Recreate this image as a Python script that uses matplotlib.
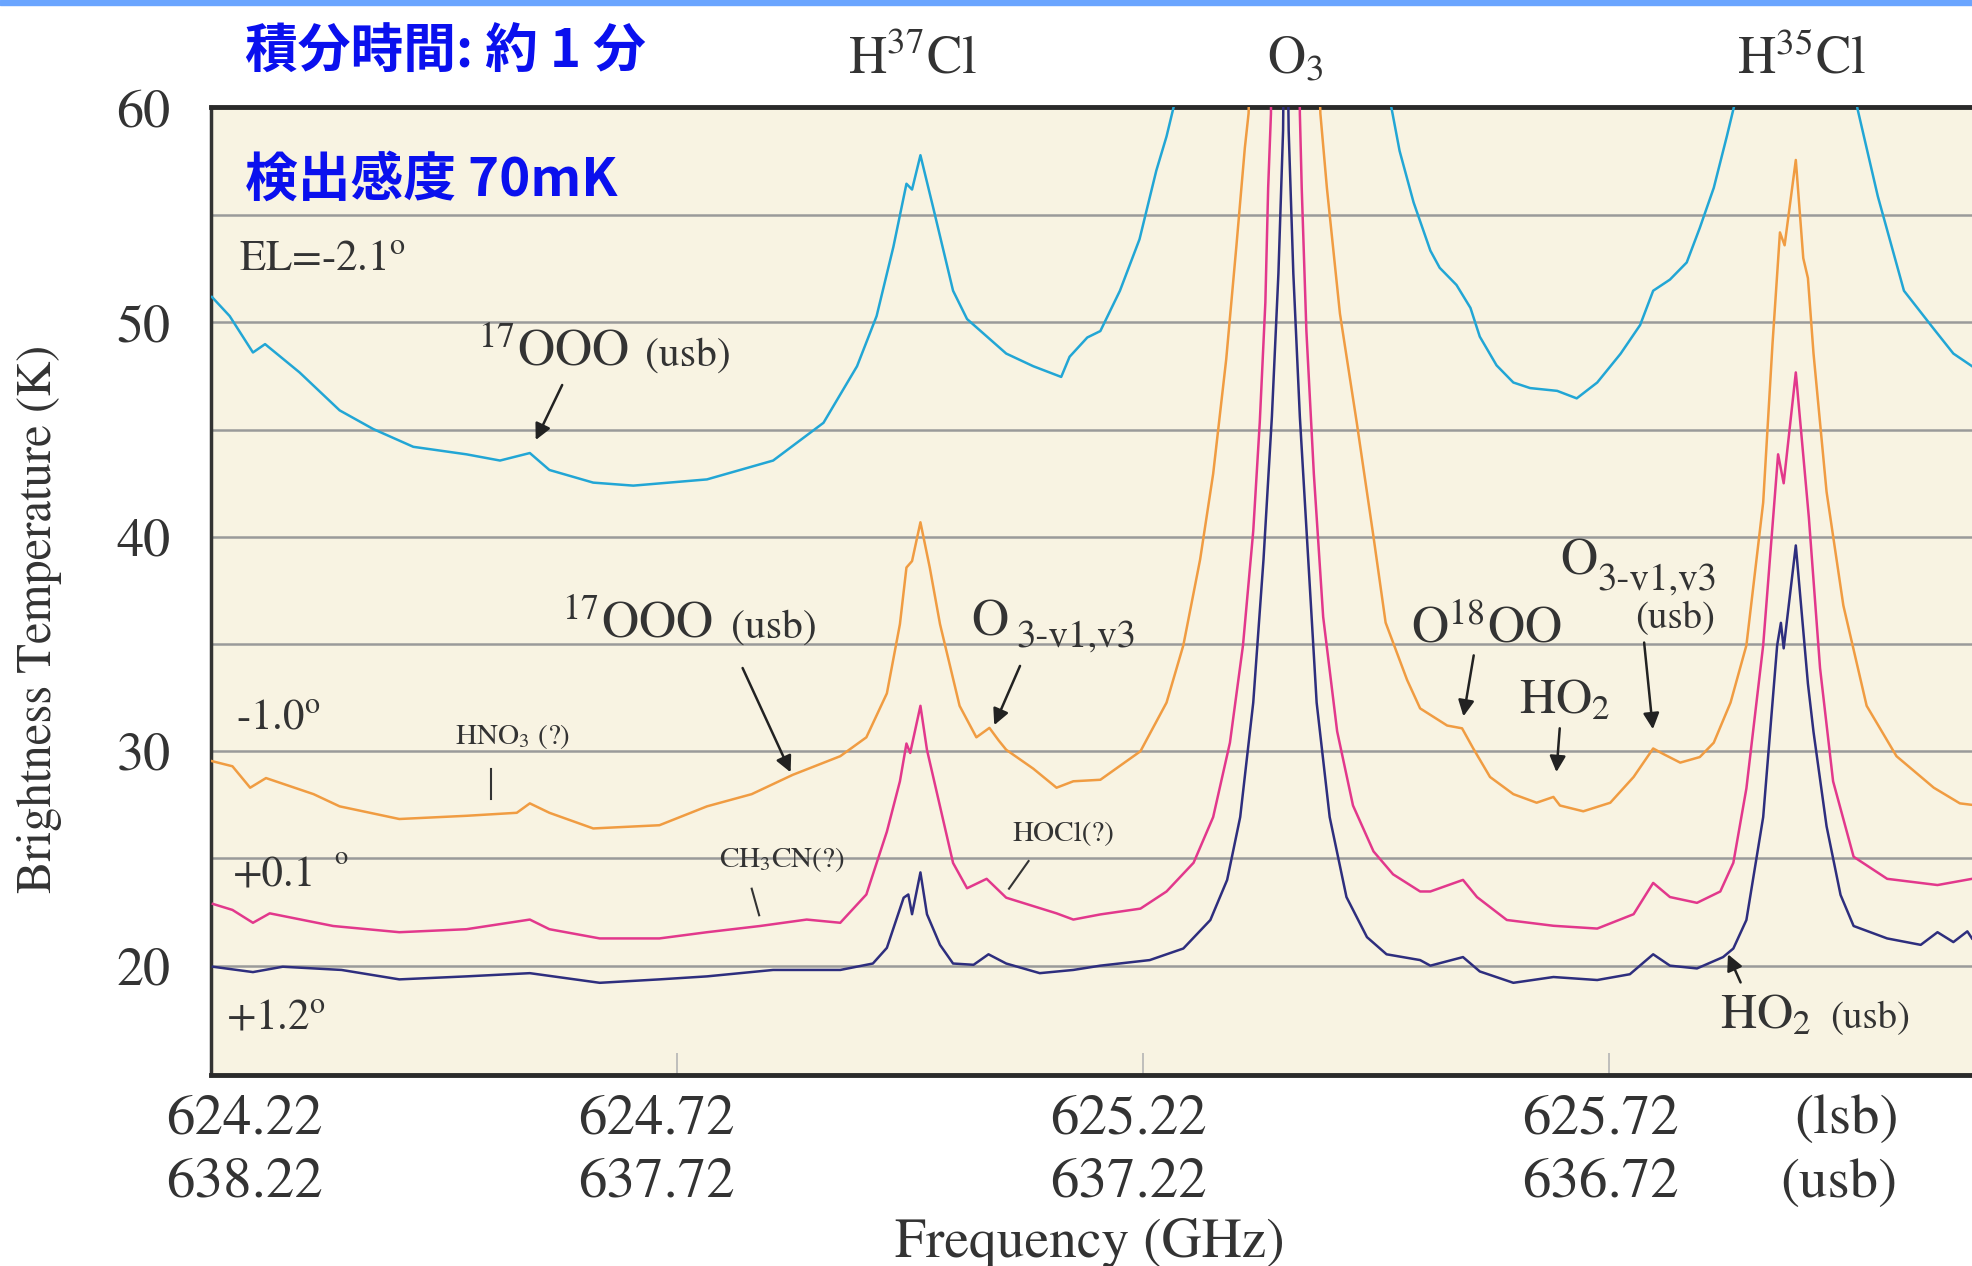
import matplotlib.pyplot as plt
from matplotlib.patches import Rectangle

plt.rcParams['font.family'] = ['STIXGeneral', 'DejaVu Serif']
plt.rcParams['mathtext.fontset'] = 'stix'

# spectra: frequency (GHz, lsb) and brightness temperature (K)
# values above 60 K are off the chart (O3 and H35Cl line centres)
freq_el_m21 = [624.221, 624.240, 624.265, 624.278, 624.315, 624.358, 624.394, 624.437,
               624.494, 624.530, 624.562, 624.583, 624.630, 624.673, 624.752, 624.823,
               624.877, 624.913, 624.934, 624.952, 624.966, 624.972, 624.981, 624.995,
               625.016, 625.031, 625.073, 625.102, 625.132, 625.141, 625.160, 625.174,
               625.195, 625.216, 625.234, 625.245, 625.254, 625.370, 625.485, 625.495,
               625.510, 625.528, 625.538, 625.556, 625.571, 625.581, 625.599, 625.617,
               625.635, 625.664, 625.685, 625.707, 625.732, 625.753, 625.767, 625.785,
               625.803, 625.817, 625.832, 625.846, 625.855, 625.920, 625.986, 626.008,
               626.036, 626.068, 626.089, 626.109]
tb_el_m21 = [51.19, 50.3, 48.6, 48.99, 47.67, 45.9, 45.03, 44.2,
             43.85, 43.56, 43.91, 43.12, 42.53, 42.39, 42.68, 43.56,
             45.32, 47.96, 50.3, 53.53, 56.47, 56.2, 57.8, 55.3,
             51.48, 50.16, 48.55, 47.96, 47.46, 48.4, 49.3, 49.6,
             51.48, 53.88, 57.08, 58.68, 60.3, 90.0, 60.3, 58.0,
             55.6, 53.35, 52.55, 51.75, 50.68, 49.34, 48.0, 47.2,
             46.94, 46.81, 46.46, 47.2, 48.54, 49.88, 51.48, 52.0,
             52.8, 54.41, 56.28, 58.68, 60.3, 85.0, 60.0, 55.88,
             51.48, 49.7, 48.55, 47.96]

freq_el_m10 = [624.221, 624.243, 624.262, 624.279, 624.330, 624.358, 624.422, 624.494,
               624.548, 624.562, 624.583, 624.630, 624.701, 624.752, 624.800, 624.844,
               624.895, 624.923, 624.945, 624.959, 624.966, 624.972, 624.981, 624.991,
               625.002, 625.023, 625.041, 625.055, 625.065, 625.073, 625.102, 625.127,
               625.145, 625.174, 625.217, 625.245, 625.263, 625.281, 625.295, 625.309,
               625.320, 625.329, 625.333, 625.371, 625.410, 625.417, 625.431, 625.449,
               625.467, 625.480, 625.503, 625.517, 625.546, 625.562, 625.574, 625.592,
               625.617, 625.642, 625.660, 625.667, 625.692, 625.721, 625.746, 625.767,
               625.778, 625.796, 625.817, 625.832, 625.850, 625.867, 625.885, 625.895,
               625.903, 625.908, 625.920, 625.928, 625.933, 625.939, 625.953, 625.971,
               625.996, 626.028, 626.068, 626.096, 626.109]
tb_el_m10 = [29.54, 29.3, 28.3, 28.75, 28.0, 27.43, 26.84, 26.99,
             27.13, 27.57, 27.13, 26.4, 26.55, 27.43, 28.0, 28.9,
             29.77, 30.65, 32.7, 35.93, 38.57, 38.87, 40.68, 38.57,
             35.93, 32.12, 30.65, 31.09, 30.5, 30.07, 29.19, 28.3,
             28.6, 28.67, 30.0, 32.27, 34.94, 38.94, 42.94, 48.28,
             53.6, 58.15, 59.75, 120.0, 59.75, 56.28, 50.41, 45.34,
             40.0, 36.0, 33.33, 32.0, 31.2, 31.07, 30.13, 28.8,
             28.0, 27.6, 27.87, 27.47, 27.2, 27.6, 28.8, 30.13,
             29.87, 29.47, 29.73, 30.4, 32.27, 34.94, 41.6, 49.0,
             54.2, 53.6, 57.58, 53.0, 52.07, 48.55, 42.1, 36.8,
             32.12, 29.77, 28.3, 27.57, 27.5]

freq_el_p01 = [624.222, 624.243, 624.265, 624.283, 624.351, 624.422, 624.494, 624.562,
               624.583, 624.637, 624.701, 624.752, 624.809, 624.859, 624.895, 624.923,
               624.945, 624.959, 624.966, 624.970, 624.981, 624.988, 625.002, 625.016,
               625.031, 625.052, 625.073, 625.127, 625.145, 625.174, 625.217, 625.245,
               625.274, 625.295, 625.313, 625.327, 625.338, 625.345, 625.351, 625.354,
               625.357, 625.372, 625.388, 625.390, 625.395, 625.403, 625.413, 625.428,
               625.445, 625.467, 625.488, 625.517, 625.528, 625.563, 625.578, 625.610,
               625.660, 625.707, 625.746, 625.767, 625.785, 625.814, 625.839, 625.853,
               625.867, 625.885, 625.901, 625.907, 625.920, 625.934, 625.946, 625.960,
               625.982, 626.018, 626.072, 626.109]
tb_el_p01 = [22.88, 22.6, 22.0, 22.44, 21.85, 21.56, 21.7, 22.15,
             21.7, 21.27, 21.27, 21.56, 21.85, 22.15, 22.0, 23.32,
             26.25, 28.6, 30.36, 29.92, 32.12, 30.07, 27.43, 24.79,
             23.61, 24.05, 23.17, 22.44, 22.15, 22.39, 22.66, 23.46,
             24.8, 26.93, 30.4, 34.94, 40.27, 45.34, 50.94, 56.28,
             59.75, 150.0, 59.75, 56.28, 49.61, 42.94, 36.27, 30.93,
             27.47, 25.33, 24.26, 23.46, 23.46, 24.0, 23.2, 22.13,
             21.86, 21.73, 22.4, 23.86, 23.2, 22.93, 23.46, 24.8,
             28.27, 34.94, 43.85, 42.5, 47.67, 40.9, 33.88, 28.6,
             25.08, 24.05, 23.76, 24.05]

freq_el_p12 = [624.222, 624.265, 624.297, 624.360, 624.422, 624.494, 624.562, 624.637,
               624.701, 624.752, 624.823, 624.895, 624.930, 624.945, 624.963, 624.968,
               624.972, 624.981, 624.988, 625.002, 625.016, 625.038, 625.054, 625.073,
               625.109, 625.145, 625.174, 625.227, 625.263, 625.292, 625.310, 625.324,
               625.338, 625.349, 625.358, 625.365, 625.370, 625.3725, 625.376, 625.381,
               625.388, 625.397, 625.406, 625.420, 625.438, 625.460, 625.481, 625.517,
               625.528, 625.563, 625.581, 625.617, 625.660, 625.707, 625.742, 625.767,
               625.785, 625.814, 625.842, 625.853, 625.867, 625.885, 625.900, 625.904,
               625.907, 625.920, 625.933, 625.939, 625.953, 625.968, 625.982, 626.018,
               626.054, 626.072, 626.089, 626.104, 626.109]
tb_el_p12 = [19.95, 19.7, 19.95, 19.8, 19.36, 19.5, 19.65, 19.2,
             19.36, 19.5, 19.8, 19.8, 20.1, 20.83, 23.17, 23.32,
             22.4, 24.35, 22.4, 20.97, 20.1, 20.04, 20.53, 20.1,
             19.65, 19.8, 20.0, 20.26, 20.8, 22.13, 24.0, 26.93,
             32.27, 38.94, 45.6, 52.28, 58.95, 70.0, 58.95, 52.28,
             45.6, 38.94, 32.27, 26.93, 23.2, 21.33, 20.53, 20.26,
             20.0, 20.4, 19.73, 19.2, 19.47, 19.33, 19.6, 20.53,
             20.0, 19.87, 20.4, 20.8, 22.13, 26.93, 34.94, 35.99,
             34.8, 39.6, 33.15, 30.9, 26.5, 23.3, 21.85, 21.27,
             20.97, 21.56, 21.1, 21.6, 21.27]

x_ticks = [624.22, 624.72, 625.22, 625.72]
lsb_labels = ['624.22', '624.72', '625.22', '625.72']
usb_labels = ['638.22', '637.72', '637.22', '636.72']
y_ticks = [20, 30, 40, 50, 60]
grid_levels = [20, 25, 30, 35, 40, 45, 50, 55]

fig = plt.figure(figsize=(19.72, 12.66), dpi=100)
ax = fig.add_axes([211 / 1972, 1 - 1075 / 1266, 1 - 211 / 1972, 968 / 1266])
ax.set_facecolor('#f8f3e2')
ax.set_xlim(624.22, 626.109)
ax.set_ylim(14.9, 60.05)

for level in grid_levels:
    ax.axhline(level, color='#9a9a9a', lw=1.8, zorder=1)

ax.plot(freq_el_m21, tb_el_m21, color='#22a6d5', lw=1.8, zorder=3)
ax.plot(freq_el_m10, tb_el_m10, color='#f09c42', lw=1.8, zorder=3)
ax.plot(freq_el_p01, tb_el_p01, color='#e2388c', lw=1.8, zorder=3)
ax.plot(freq_el_p12, tb_el_p12, color='#2e2e7e', lw=1.8, zorder=3)

ax.set_yticks(y_ticks)
ax.tick_params(axis='y', length=0, pad=29, labelsize=39, labelcolor='#333333')
ax.set_xticks(x_ticks)
ax.tick_params(axis='x', direction='in', length=16, width=1.2, color='#b5b5b5',
               labelbottom=False)

for side in ['top', 'bottom']:
    ax.spines[side].set_linewidth(3.5)
    ax.spines[side].set_color('#2a2a2a')
ax.spines['left'].set_linewidth(2.5)
ax.spines['left'].set_color('#333333')
ax.spines['right'].set_visible(False)

# two rows of frequency labels below the axis
label_x = [624.256, 624.698, 625.204, 625.710]
for x, lsb, usb in zip(label_x, lsb_labels, usb_labels):
    ax.text(x, 12.8, lsb, fontsize=41, ha='center', va='center', color='#333333')
    ax.text(x, 9.85, usb, fontsize=41, ha='center', va='center', color='#333333')
ax.text(625.974, 12.8, '(lsb)', fontsize=41, ha='center', va='center', color='#333333')
ax.text(625.966, 9.85, '(usb)', fontsize=41, ha='center', va='center', color='#333333')

fig.text(1090 / 1972, 0.018, 'Frequency (GHz)', fontsize=40, ha='center', va='center',
         color='#333333')
fig.text(40 / 1972, 0.511, 'Brightness Temperature (K)', fontsize=35, rotation=90,
         ha='center', va='center', color='#333333')

# molecule names over the axes
ax.text(624.972, 61.6, r'H$^{37}$Cl', fontsize=38, ha='center', va='baseline', color='#333333')
ax.text(625.383, 61.6, r'O$_3$', fontsize=38, ha='center', va='baseline', color='#333333')
ax.text(625.926, 61.6, r'H$^{35}$Cl', fontsize=38, ha='center', va='baseline', color='#333333')

# elevation labels
txt = dict(color='#333333', va='center')
ax.text(624.250, 52.94, r'EL=-2.1$^{\rm o}$', fontsize=31, **txt)
ax.text(624.247, 31.53, r'-1.0$^{\rm o}$', fontsize=31, **txt)
ax.text(624.243, 24.18, '+0.1', fontsize=31, **txt)
ax.text(624.352, 25.0, 'o', fontsize=19, **txt)
ax.text(624.236, 17.53, r'+1.2$^{\rm o}$', fontsize=31, **txt)

# line identifications
base = dict(color='#333333', va='baseline')
arrow = dict(arrowstyle='-|>', color='#222222', lw=1.8, mutation_scale=24)
ax.text(624.506, 48.0, r'$^{17}$OOO', fontsize=37, **base)
ax.text(624.686, 48.0, '(usb)', fontsize=30, **base)
ax.annotate('', xy=(624.567, 44.4), xytext=(624.598, 47.2), arrowprops=arrow)

ax.text(624.597, 35.3, r'$^{17}$OOO', fontsize=37, **base)
ax.text(624.778, 35.3, '(usb)', fontsize=30, **base)
ax.annotate('', xy=(624.843, 28.9), xytext=(624.789, 34.0), arrowprops=arrow)

ax.text(625.035, 35.4, 'O', fontsize=37, **base)
ax.text(625.084, 34.9, '3-v1,v3', fontsize=28, **base)
ax.annotate('', xy=(625.059, 31.1), xytext=(625.089, 34.1), arrowprops=arrow)

ax.text(625.507, 35.06, r'O$^{18}$OO', fontsize=37, **base)
ax.annotate('', xy=(625.563, 31.5), xytext=(625.575, 34.6), arrowprops=arrow)

ax.text(625.623, 31.76, r'HO$_2$', fontsize=36, **base)
ax.annotate('', xy=(625.663, 28.9), xytext=(625.667, 31.2), arrowprops=arrow)

ax.text(625.667, 38.24, 'O', fontsize=37, **base)
ax.text(625.707, 37.53, '3-v1,v3', fontsize=28, **base)
ax.text(625.748, 35.76, '(usb)', fontsize=28, **base)
ax.annotate('', xy=(625.767, 30.9), xytext=(625.757, 35.2), arrowprops=arrow)

ax.text(625.839, 17.06, r'HO$_2$', fontsize=36, **base)
ax.text(625.957, 17.1, '(usb)', fontsize=28, **base)
ax.annotate('', xy=(625.846, 20.65), xytext=(625.862, 19.1), arrowprops=arrow)

small = dict(color='#333333', va='center', fontsize=21)
ax.text(624.482, 30.7, r'HNO$_3$ (?)', **small)
ax.plot([624.520, 624.520], [29.18, 27.76], color='#333333', lw=1.5)
ax.text(624.765, 24.94, r'CH$_3$CN(?)', **small)
ax.plot([624.800, 624.808], [23.59, 22.35], color='#333333', lw=1.5)
ax.text(625.080, 26.12, 'HOCl(?)', **small)
ax.plot([625.097, 625.076], [24.88, 23.59], color='#333333', lw=1.5)

# annotation in Japanese
jp = dict(family=['Noto Sans CJK JP', 'DejaVu Sans'], weight='bold', color='#0a10ee',
          fontsize=38, ha='left', va='center')
fig.text(245 / 1972, 1 - 52 / 1266, '積分時間: 約 1 分', **jp)
fig.text(245 / 1972, 1 - 180 / 1266, '検出感度 70mK', **jp)

# blue band along the top edge
fig.patches.append(Rectangle((0, 1 - 5 / 1266), 1, 5 / 1266, transform=fig.transFigure,
                             color='#6aa5ff', zorder=5))

fig.savefig('out.png', dpi=100, facecolor='white')
